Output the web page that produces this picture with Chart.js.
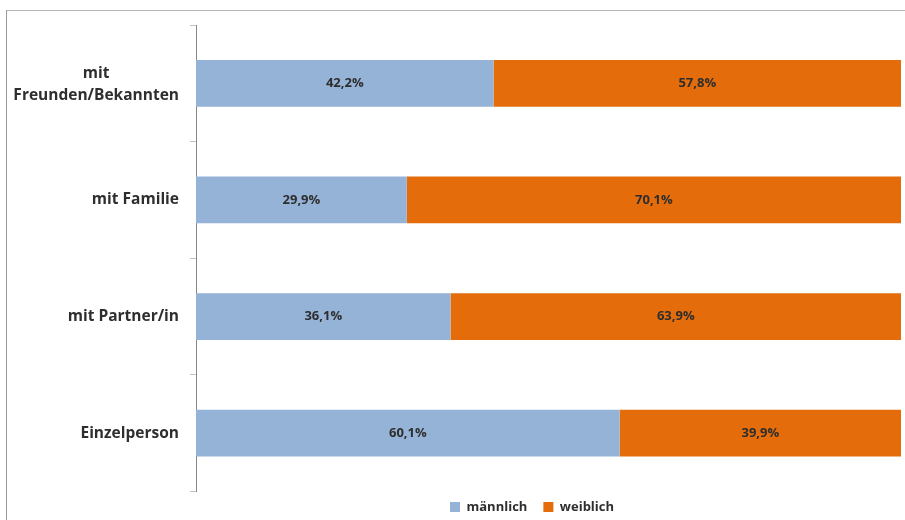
<!DOCTYPE html>
<html><head><meta charset="utf-8">
<script src="https://cdn.jsdelivr.net/npm/chart.js@4/dist/chart.umd.min.js"></script>
<style>
html,body{margin:0;padding:0;background:#fff;}
#wrap{position:relative;width:905px;height:520px;overflow:hidden;}
#frame{position:absolute;left:6px;top:10px;right:-2px;bottom:-2px;border-left:1px solid #9a9a9a;border-top:1px solid #b4b4b4;}
canvas{position:absolute;left:0;top:0;}
</style></head><body>
<div id="wrap"><div id="frame"></div><canvas id="c" width="905" height="520"></canvas></div>
<script>
const categories = [['mit', 'Freunden/Bekannten'], 'mit Familie', 'mit Partner/in', 'Einzelperson'];
const seriesNames = ['männlich', 'weiblich'];
const maennlich = [42.2, 29.9, 36.1, 60.1];
const weiblich = [57.8, 70.1, 63.9, 39.9];
const seriesColors = ['#95B3D7', '#E46C0A'];

const TEXT = '#2e2e2e';
const fmt = v => v.toFixed(1).replace('.', ',') + '%';

const valueLabels = {
  id: 'valueLabels',
  afterDatasetsDraw(chart) {
    const ctx = chart.ctx;
    ctx.save();
    ctx.font = 'bold 13px "Open Sans"';
    ctx.fillStyle = TEXT;
    ctx.textAlign = 'center';
    ctx.textBaseline = 'middle';
    chart.data.datasets.forEach((ds, di) => {
      chart.getDatasetMeta(di).data.forEach((bar, i) => {
        const p = bar.getProps(['x', 'base', 'y'], true);
        ctx.fillText(fmt(ds.data[i]), (p.x + p.base) / 2, p.y);
      });
    });
    ctx.restore();
  }
};

const catLabels = {
  id: 'catLabels',
  afterDraw(chart) {
    const sc = chart.scales.y;
    const ctx = chart.ctx;
    ctx.save();
    ctx.font = 'bold 15.5px "Open Sans"';
    ctx.fillStyle = TEXT;
    ctx.textAlign = 'center';
    ctx.textBaseline = 'middle';
    const right = sc.right - 17;
    chart.data.labels.forEach((lab, i) => {
      const lines = Array.isArray(lab) ? lab : [lab];
      const w = Math.max(...lines.map(l => ctx.measureText(l).width));
      const cx = right - w / 2;
      const yc = sc.getPixelForTick(i) + (lines.length > 1 ? 1 : 0);
      lines.forEach((l, k) => ctx.fillText(l, cx, yc + (k - (lines.length - 1) / 2) * 22));
    });
    ctx.restore();
  }
};

const legendPlace = {
  id: 'legendPlace',
  afterLayout(chart) {
    const lg = chart.legend;
    if (!lg || !lg.lineWidths) return;
    const pad = lg.options.labels.padding;
    const x0 = (lg.left + pad + lg.right - lg.lineWidths[0]) / 2;
    const dx = 450 - x0;
    lg.left += dx; lg.right += dx;
    const h = lg.bottom - lg.top;
    lg.top = 507 - pad - 6.5;
    lg.bottom = lg.top + h;
  }
};

new Chart(document.getElementById('c'), {
  type: 'bar',
  data: {
    labels: categories,
    datasets: [
      { label: seriesNames[0], data: maennlich, backgroundColor: seriesColors[0], borderWidth: 0, barPercentage: 0.4, categoryPercentage: 1 },
      { label: seriesNames[1], data: weiblich, backgroundColor: seriesColors[1], borderWidth: 0, barPercentage: 0.4, categoryPercentage: 1 }
    ]
  },
  options: {
    indexAxis: 'y',
    responsive: false,
    animation: false,
    layout: { padding: { top: 25, right: 4, left: 0, bottom: -10.5 } },
    scales: {
      x: { stacked: true, display: false, min: 0, max: 100 },
      y: {
        stacked: true,
        afterFit(s) { s.width = 196; },
        border: { display: true, color: '#878787', width: 1 },
        grid: { offset: true, drawOnChartArea: false, drawTicks: true, tickLength: 6, color: '#c4c4c4' },
        ticks: { display: false }
      }
    },
    plugins: {
      tooltip: { enabled: false },
      legend: {
        position: 'bottom',
        labels: {
          boxWidth: 10, boxHeight: 10, padding: 16,
          color: TEXT,
          font: { family: 'Open Sans', size: 13, weight: 'bold' }
        }
      }
    }
  },
  plugins: [valueLabels, catLabels, legendPlace]
});
</script>
</body></html>
